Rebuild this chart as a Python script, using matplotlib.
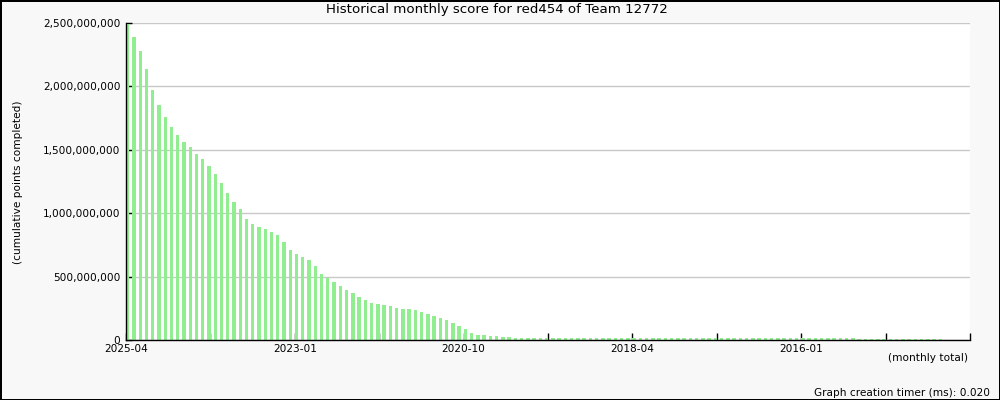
import matplotlib.pyplot as plt
from matplotlib.ticker import FuncFormatter

# monthly cumulative score (millions of points), newest month first (2025-04 going back)
scores = [
    2492, 2392, 2279, 2137, 1972, 1853, 1759, 1680, 1617, 1561,
    1522, 1467, 1427, 1372, 1309, 1238, 1159, 1088, 1033, 954,
    915, 891, 875, 852, 828, 773, 710, 678, 655, 631,
    584, 520, 491, 457, 426, 394, 371, 339, 315, 292,
    284, 276, 268, 252, 244, 244, 237, 221, 205, 189,
    174, 158, 134, 110, 87, 55, 39, 39, 34, 32,
    26, 24, 19, 18, 18, 18, 18, 18, 18, 18,
    17, 17, 17, 17, 17, 17, 17, 17, 17, 17,
    16, 16, 16, 16, 16, 16, 16, 16, 16, 16,
    16, 16, 16, 16, 16, 16, 16, 16, 16, 16,
    16, 16, 16, 16, 16, 16, 16, 16, 16, 16,
    16, 16, 16, 16, 16, 16, 16, 9, 9, 9,
    9, 9, 9, 9, 9, 9, 9, 9, 9, 9,
    9,
]
n_slots = 135
tick_labels = ['2025-04', '2023-01', '2020-10', '2018-04', '2016-01']
tick_months = [0, 27, 54, 81, 108]

fig = plt.figure(figsize=(10, 4), dpi=100, facecolor='#f8f8f8',
                 edgecolor='black', linewidth=1)
ax = fig.add_axes([0.126, 0.15, 0.844, 0.7925])
ax.set_facecolor('white')

x = list(range(len(scores)))
ax.bar(x, [s * 1e6 for s in scores], width=0.55, align='edge',
       color='#90ee90', zorder=2)

ax.set_xlim(0, n_slots)
ax.set_ylim(0, 2.5e9)
ax.set_yticks([0, 5e8, 1e9, 1.5e9, 2e9, 2.5e9])
ax.yaxis.set_major_formatter(FuncFormatter(lambda v, p: f"{int(v):,}"))
ax.grid(axis='y', color='#c8c8c8', linewidth=1, zorder=0)

major = [i * n_slots / 10 for i in range(11)]
ax.set_xticks(major)
lbls = [''] * 11
for m, lab in zip(tick_months, tick_labels):
    lbls[int(round(m / n_slots * 10))] = lab
ax.set_xticklabels(lbls)

ax.tick_params(axis='both', direction='in', length=5, width=1,
               labelsize=7.6, colors='black')
ax.tick_params(axis='y', length=4, pad=4)
ax.tick_params(axis='x', pad=3)
for s in ['top', 'right']:
    ax.spines[s].set_visible(False)
for s in ['left', 'bottom']:
    ax.spines[s].set_linewidth(1)
    ax.spines[s].set_zorder(3)

fig.text(0.497, 0.975, 'Historical monthly score for red454 of Team 12772',
         ha='center', va='center', fontsize=9.6)
fig.text(0.018, 0.545, '(cumulative points completed)', rotation=90,
         ha='center', va='center', fontsize=7.6)
fig.text(0.968, 0.105, '(monthly total)', ha='right', va='center', fontsize=7.6)
fig.text(0.99, 0.017, 'Graph creation timer (ms): 0.020', ha='right',
         va='center', fontsize=7.6)

fig.savefig('out.png', dpi=100, facecolor=fig.get_facecolor(),
            edgecolor='black')
